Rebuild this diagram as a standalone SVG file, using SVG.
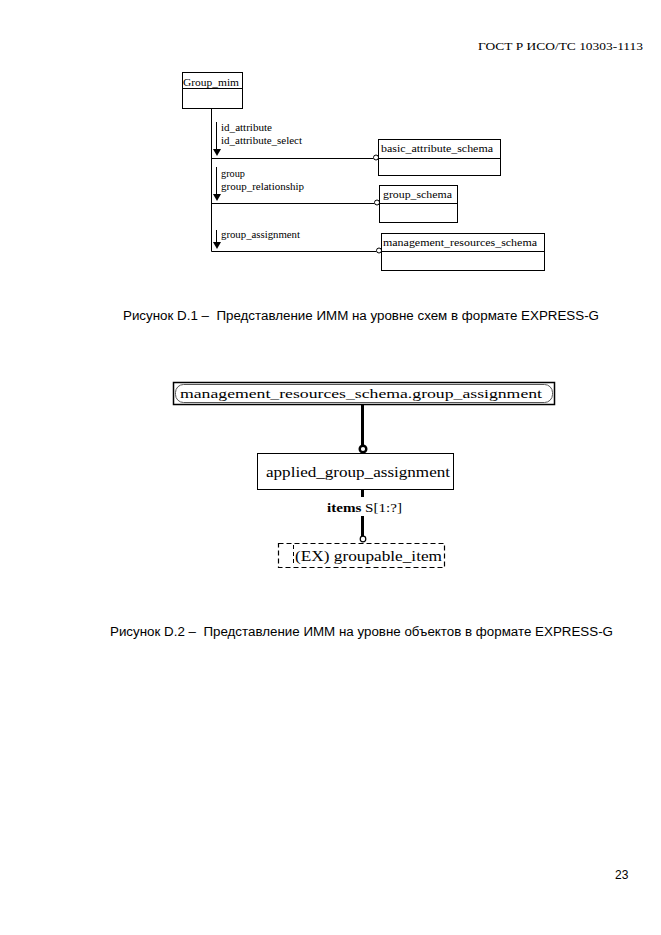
<svg xmlns="http://www.w3.org/2000/svg" width="661" height="935" viewBox="0 0 661 935">
<style>
.s{font-family:"Liberation Serif","Times New Roman",serif;fill:#000}
.a{font-family:"Liberation Sans",Arial,sans-serif;fill:#000}
.box{fill:#fff;stroke:#000;stroke-width:1}
.ln{fill:none;stroke:#000;stroke-width:1}
.tk{fill:none;stroke:#000;stroke-width:3}
.dash{fill:#fff;stroke:#000;stroke-width:1.2;stroke-dasharray:5,3}
</style>
<rect width="661" height="935" fill="#fff"/>
<text class="s" x="478" y="50" font-size="11" textLength="165" lengthAdjust="spacingAndGlyphs">ГОСТ Р ИСО/ТС 10303-1113</text>

<g id="connectors">
  <line class="ln" x1="211.5" y1="109" x2="211.5" y2="251.5"/>
  <line class="ln" x1="211.5" y1="158.5" x2="373.5" y2="158.5"/>
  <line class="ln" x1="211.5" y1="203.5" x2="374.5" y2="203.5"/>
  <line class="ln" x1="211.5" y1="251.5" x2="376.5" y2="251.5"/>
  <circle class="box" cx="376" cy="157.5" r="2.5"/>
  <circle class="box" cx="377" cy="202.5" r="2.5"/>
  <circle class="box" cx="379" cy="250.5" r="2.5"/>
  <line class="ln" x1="216.5" y1="122" x2="216.5" y2="150"/>
  <polygon points="213,149 221,149 217,156" fill="#000"/>
  <line class="ln" x1="216.5" y1="167" x2="216.5" y2="195"/>
  <polygon points="213,194 221,194 217,201" fill="#000"/>
  <line class="ln" x1="216.5" y1="230" x2="216.5" y2="243"/>
  <polygon points="213,242 221,242 217,249" fill="#000"/>
  <text class="s" x="221" y="131" font-size="10" textLength="51" lengthAdjust="spacingAndGlyphs">id_attribute</text>
  <text class="s" x="221" y="144" font-size="10" textLength="81" lengthAdjust="spacingAndGlyphs">id_attribute_select</text>
  <text class="s" x="221" y="177" font-size="10" textLength="24" lengthAdjust="spacingAndGlyphs">group</text>
  <text class="s" x="221" y="190" font-size="10" textLength="83" lengthAdjust="spacingAndGlyphs">group_relationship</text>
  <text class="s" x="221" y="238" font-size="10" textLength="79" lengthAdjust="spacingAndGlyphs">group_assignment</text>

  <line class="tk" x1="362.5" y1="404" x2="362.5" y2="446"/>
  <circle cx="363" cy="449" r="3.3" fill="#fff" stroke="#000" stroke-width="2.4"/>
  <line class="tk" x1="362.5" y1="490" x2="362.5" y2="497"/>
  <line class="tk" x1="362.5" y1="516" x2="362.5" y2="536"/>
  <circle cx="363" cy="539" r="2.8" fill="#fff" stroke="#000" stroke-width="1.2"/>
  <text class="s" x="327" y="512" font-size="13" textLength="75" lengthAdjust="spacingAndGlyphs"><tspan font-weight="bold">items</tspan> S[1:?]</text>
</g>

<g id="Group_mim">
  <rect class="box" x="182.5" y="72.5" width="60" height="36"/>
  <line class="ln" x1="182.5" y1="88.5" x2="242.5" y2="88.5"/>
  <text class="s" x="183" y="86" font-size="11" textLength="56" lengthAdjust="spacingAndGlyphs">Group_mim</text>
</g>
<g id="basic_attribute_schema">
  <rect class="box" x="378.5" y="139.5" width="122" height="36"/>
  <line class="ln" x1="378.5" y1="158.5" x2="500.5" y2="158.5"/>
  <text class="s" x="381" y="152" font-size="10" textLength="112" lengthAdjust="spacingAndGlyphs">basic_attribute_schema</text>
</g>
<g id="group_schema">
  <rect class="box" x="379.5" y="185.5" width="78" height="37"/>
  <line class="ln" x1="379.5" y1="203.5" x2="457.5" y2="203.5"/>
  <text class="s" x="383" y="198" font-size="10" textLength="69" lengthAdjust="spacingAndGlyphs">group_schema</text>
</g>
<g id="management_resources_schema">
  <rect class="box" x="381.5" y="233.5" width="163" height="37"/>
  <line class="ln" x1="381.5" y1="251.5" x2="544.5" y2="251.5"/>
  <text class="s" x="383" y="246" font-size="10" textLength="154" lengthAdjust="spacingAndGlyphs">management_resources_schema</text>
</g>

<text class="a" x="123" y="320" font-size="12" textLength="476" lengthAdjust="spacingAndGlyphs">Рисунок D.1 –&#160; Представление ИММ на уровне схем в формате EXPRESS-G</text>

<g id="mrs_group_assignment">
  <rect x="173.5" y="382.5" width="381" height="22" fill="#fff" stroke="#000" stroke-width="1.5"/>
  <rect x="175.5" y="384.5" width="377" height="18" rx="8" ry="8" fill="none" stroke="#555" stroke-width="1"/>
  <text class="s" x="180" y="398" font-size="13" textLength="362" lengthAdjust="spacingAndGlyphs">management_resources_schema.group_assignment</text>
</g>
<g id="applied_group_assignment">
  <rect class="box" x="257.5" y="453.5" width="196" height="36"/>
  <text class="s" x="266" y="477" font-size="14" textLength="184" lengthAdjust="spacingAndGlyphs">applied_group_assignment</text>
</g>
<g id="groupable_item">
  <rect class="dash" x="278.5" y="543.5" width="166" height="24"/>
  <line x1="293.5" y1="545" x2="293.5" y2="566" stroke="#000" stroke-width="1" stroke-dasharray="4,3"/>
  <text class="s" x="295" y="561" font-size="14" textLength="147" lengthAdjust="spacingAndGlyphs">(EX) groupable_item</text>
</g>

<text class="a" x="110" y="636" font-size="12" textLength="503" lengthAdjust="spacingAndGlyphs">Рисунок D.2 –&#160; Представление ИММ на уровне объектов в формате EXPRESS-G</text>
<text class="a" x="615" y="879" font-size="12">23</text>
</svg>
